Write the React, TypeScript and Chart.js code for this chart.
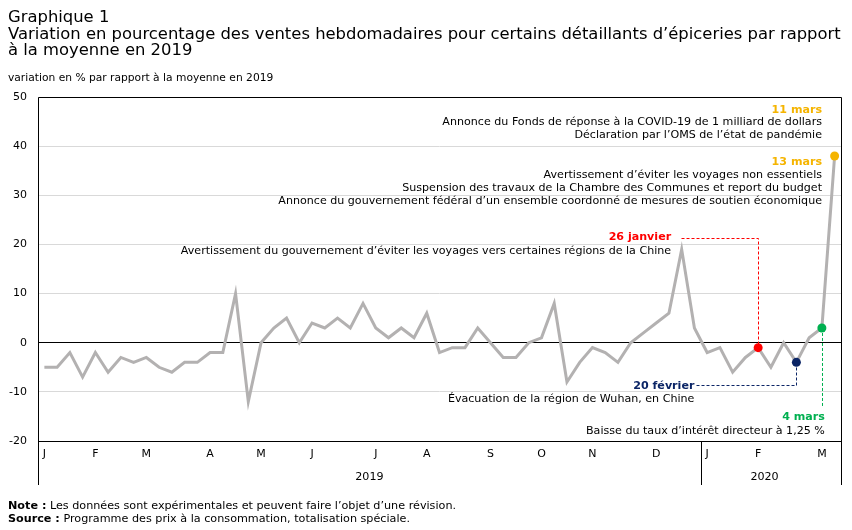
import React, { useEffect, useRef } from "react";
import { Chart, registerables } from "chart.js";

Chart.register(...registerables);

// Semaines de janvier 2019 à mars 2020 ; lettre du mois sur la première semaine de chaque mois
const monthTicks = [
  "J", "", "", "", "F", "", "", "", "M", "", "", "", "", "A", "", "", "", "M", "", "", "",
  "J", "", "", "", "", "J", "", "", "", "A", "", "", "", "", "S", "", "", "", "O", "", "",
  "", "N", "", "", "", "", "D", "", "", "", "J", "", "", "", "F", "", "", "", "", "M", "",
];

// Variation en % des ventes hebdomadaires par rapport à la moyenne de 2019
const salesChange = [
  -5, -5, -2, -7, -2, -6, -3, -4, -3, -5, -6, -4, -4, -2, -2, 10, -12, 0, 3, 5, 0,
  4, 3, 5, 3, 8, 3, 1, 3, 1, 6, -2, -1, -1, 3, 0, -3, -3, 0, 1, 8, -8,
  -4, -1, -2, -4, 0, 2, 4, 6, 19, 3, -2, -1, -6, -3, -1, -5, 0, -4, 1, 3, 38,
];

const yTickValues = [-20, -10, 0, 10, 20, 30, 40, 50];

const yearLabels = ["2019", "2020"];
const yearCentreWeek = [25.5, 56.5];
const lastWeekOf2019 = 51;

// Semaines marquées d'un événement
const eventWeek = [56, 59, 61, 62];
const eventColor = ["#FF0000", "#0B2566", "#00B050", "#F5B400"];

const noteMar11 = ["11 mars", "Annonce du Fonds de réponse à la COVID-19 de 1 milliard de dollars", "Déclaration par l’OMS de l’état de pandémie"];
const noteMar13 = ["13 mars", "Avertissement d’éviter les voyages non essentiels", "Suspension des travaux de la Chambre des Communes et report du budget", "Annonce du gouvernement fédéral d’un ensemble coordonné de mesures de soutien économique"];
const noteJan26 = ["26 janvier", "Avertissement du gouvernement d’éviter les voyages vers certaines régions de la Chine"];
const noteFeb20 = ["20 février", "Évacuation de la région de Wuhan, en Chine"];
const noteMar4 = ["4 mars", "Baisse du taux d’intérêt directeur à 1,25 %"];

const FONT = '"DejaVu Sans", Verdana, sans-serif';
const AXIS_DEPTH = 44;

function label(ctx: CanvasRenderingContext2D, text: string, x: number, y: number, color: string, bold = false, align: CanvasTextAlign = "right") {
  ctx.font = `${bold ? "bold " : ""}11.1px ${FONT}`;
  ctx.fillStyle = color;
  ctx.textAlign = align;
  ctx.textBaseline = "middle";
  ctx.fillText(text, x, y);
}

function note(ctx: CanvasRenderingContext2D, lines: string[], right: number, top: number, color: string, gap = 12.8) {
  lines.forEach((t, i) => label(ctx, t, right, top + i * gap, i === 0 ? color : "#000", i === 0));
}

const decorations = {
  id: "decorations",
  beforeDatasetsDraw(chart: any) {
    const { ctx, chartArea: a, scales } = chart;
    const xs = scales.x;
    const ys = scales.y;
    ctx.save();

    // cadre et séparateur d'années
    ctx.strokeStyle = "#000";
    ctx.lineWidth = 1;
    ctx.setLineDash([]);
    ctx.beginPath();
    const l = Math.round(a.left) + 0.5;
    const r = Math.round(a.right) + 0.5;
    const t = Math.round(a.top) + 0.5;
    const b = Math.round(a.bottom) + 0.5;
    ctx.moveTo(l, a.bottom + AXIS_DEPTH);
    ctx.lineTo(l, t);
    ctx.lineTo(r, t);
    ctx.lineTo(r, a.bottom + AXIS_DEPTH);
    ctx.moveTo(l, b);
    ctx.lineTo(r, b);
    const sep = Math.round((xs.getPixelForValue(lastWeekOf2019) + xs.getPixelForValue(lastWeekOf2019 + 1)) / 2) + 0.5;
    ctx.moveTo(sep, a.bottom);
    ctx.lineTo(sep, a.bottom + AXIS_DEPTH);
    ctx.stroke();

    // années
    yearLabels.forEach((y, i) => {
      const w = yearCentreWeek[i];
      const px = xs.getPixelForValue(Math.floor(w)) + (w % 1) * (xs.getPixelForValue(1) - xs.getPixelForValue(0));
      label(ctx, y, px, a.bottom + 36, "#000", false, "center");
    });

    // lignes de rappel pointillées
    ctx.lineWidth = 1;
    ctx.setLineDash([3, 2]);
    const px = (i: number) => xs.getPixelForValue(eventWeek[i]);
    const py = (i: number) => ys.getPixelForValue(salesChange[eventWeek[i]]);

    // 26 janvier
    const janY = Math.round(ys.getPixelForValue(21.3)) + 0.5;
    const janX = Math.round(px(0)) + 0.5;
    ctx.strokeStyle = eventColor[0];
    ctx.beginPath();
    ctx.moveTo(janX - 77, janY);
    ctx.lineTo(janX, janY);
    ctx.lineTo(janX, py(0));
    ctx.stroke();

    // 20 février
    const febY = Math.round(ys.getPixelForValue(-8.6)) + 0.5;
    const febX = Math.round(px(1)) + 0.5;
    ctx.strokeStyle = eventColor[1];
    ctx.beginPath();
    ctx.moveTo(febX - 100, febY);
    ctx.lineTo(febX, febY);
    ctx.lineTo(febX, py(1));
    ctx.stroke();

    // 4 mars
    const marX = Math.round(px(2)) + 0.5;
    ctx.strokeStyle = eventColor[2];
    ctx.beginPath();
    ctx.moveTo(marX, py(2));
    ctx.lineTo(marX, ys.getPixelForValue(-13));
    ctx.stroke();
    ctx.setLineDash([]);

    // textes des événements
    const right = a.right - 19;
    note(ctx, noteMar11, right, ys.getPixelForValue(47.4), eventColor[3]);
    note(ctx, noteMar13, right, ys.getPixelForValue(36.7), eventColor[3]);
    note(ctx, noteJan26, px(0) - 87, ys.getPixelForValue(21.5), eventColor[0], 14.4);
    note(ctx, noteFeb20, px(1) - 102, ys.getPixelForValue(-8.8), eventColor[1], 13);
    note(ctx, noteMar4, px(2) + 3, ys.getPixelForValue(-15.2), eventColor[2], 13.3);

    ctx.restore();
  },
};

export default function App() {
  const canvasRef = useRef<HTMLCanvasElement | null>(null);

  useEffect(() => {
    if (!canvasRef.current) return;
    const radius = salesChange.map((_, i) => (eventWeek.includes(i) ? 4.5 : 0));
    const colours = salesChange.map((_, i) => {
      const k = eventWeek.indexOf(i);
      return k >= 0 ? eventColor[k] : "#B3B1B1";
    });

    const chart = new Chart(canvasRef.current, {
      type: "line",
      data: {
        labels: monthTicks,
        datasets: [
          {
            data: salesChange,
            borderColor: "#B3B1B1",
            borderWidth: 3,
            tension: 0,
            pointRadius: radius,
            pointHoverRadius: radius,
            pointBackgroundColor: colours,
            pointBorderWidth: 0,
            pointBorderColor: colours,
          },
        ],
      },
      options: {
        responsive: false,
        animation: false,
        events: [],
        layout: { padding: { top: 97, left: 0, right: 11, bottom: 45 } },
        plugins: { legend: { display: false }, tooltip: { enabled: false }, title: { display: false } },
        scales: {
          x: {
            type: "category",
            offset: true,
            border: { display: false },
            grid: { display: false, drawTicks: false },
            ticks: {
              autoSkip: false,
              maxRotation: 0,
              padding: 7,
              color: "#000",
              font: { family: FONT, size: 11 },
              callback: (_v: any, i: number) => monthTicks[i],
            },
            afterFit: (s: any) => {
              s.height = AXIS_DEPTH;
            },
          },
          y: {
            min: yTickValues[0],
            max: yTickValues[yTickValues.length - 1],
            border: { display: false },
            grid: {
              drawTicks: false,
              color: (c: any) => (c.tick && c.tick.value === 0 ? "#000" : "#D9D9D9"),
              lineWidth: 1,
            },
            afterBuildTicks: (s: any) => {
              s.ticks = yTickValues.map((v) => ({ value: v }));
            },
            ticks: {
              padding: 11,
              color: "#000",
              font: { family: FONT, size: 11 },
            },
            afterFit: (s: any) => {
              s.width = 38;
            },
          },
        },
      },
      plugins: [decorations],
    });
    return () => chart.destroy();
  }, []);

  return (
    <div style={{ position: "fixed", left: 0, top: 0, width: 852, height: 530, background: "#fff", overflow: "hidden" }}>
      <canvas ref={canvasRef} width={852} height={530} style={{ position: "absolute", left: 0, top: 0, width: 852, height: 530 }} />
      <div
        style={{
          position: "absolute",
          left: 8,
          top: 9,
          fontFamily: FONT,
          fontSize: 16.4,
          lineHeight: "16.5px",
          whiteSpace: "nowrap",
          color: "#000",
        }}
      >
        Graphique 1
        <br />
        Variation en pourcentage des ventes hebdomadaires pour certains détaillants d’épiceries par rapport
        <br />
        à la moyenne en 2019
      </div>
      <div
        style={{
          position: "absolute",
          left: 8,
          top: 71,
          fontFamily: FONT,
          fontSize: 10.7,
          lineHeight: "14px",
          whiteSpace: "nowrap",
        }}
      >
        variation en % par rapport à la moyenne en 2019
      </div>
      <div
        style={{
          position: "absolute",
          left: 8,
          top: 499,
          fontFamily: FONT,
          fontSize: 11.2,
          lineHeight: "13px",
          whiteSpace: "nowrap",
        }}
      >
        <b>Note :</b> Les données sont expérimentales et peuvent faire l’objet d’une révision.
        <br />
        <b>Source :</b> Programme des prix à la consommation, totalisation spéciale.
      </div>
    </div>
  );
}
